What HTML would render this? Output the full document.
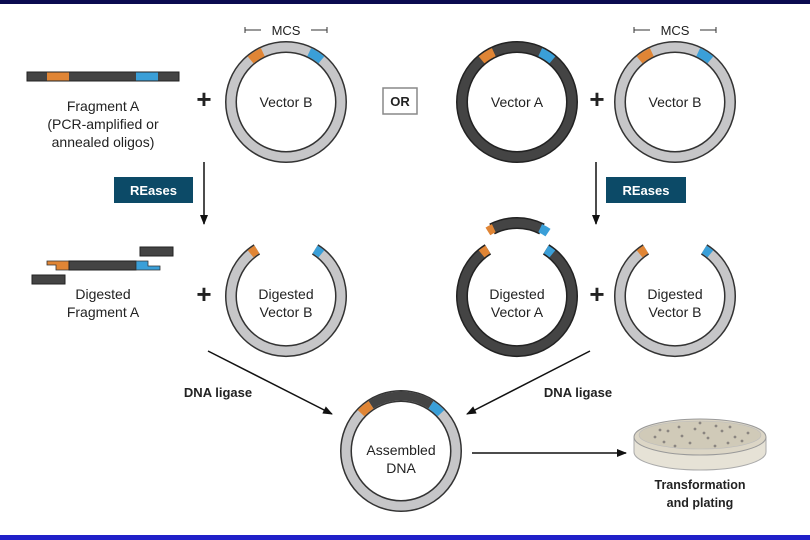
<!DOCTYPE html>
<html><head><meta charset="utf-8"><style>
html,body{margin:0;padding:0;background:#fff}
svg{display:block}
text{font-family:"Liberation Sans",sans-serif;fill:#222}
</style></head><body>
<svg width="810" height="540" viewBox="0 0 810 540" xmlns="http://www.w3.org/2000/svg">
<defs>
<marker id="ah" markerWidth="10" markerHeight="8" refX="9" refY="4" orient="auto" markerUnits="userSpaceOnUse"><path d="M0,0 L10,4 L0,8 Z" fill="#111"/></marker>
</defs>
<rect x="0" y="0" width="810" height="4" fill="#0a0a50"/>
<rect x="0" y="535" width="810" height="5" fill="#2020c8"/>

<!-- Fragment A -->
<rect x="27" y="72" width="152" height="9" fill="#444" stroke="#222" stroke-width="1"/>
<rect x="47" y="72.5" width="22" height="8" fill="#e08535"/>
<rect x="136" y="72.5" width="22" height="8" fill="#3a9fd8"/>
<text x="103" y="111" font-size="14" text-anchor="middle">Fragment A</text>
<text x="103" y="129" font-size="14" text-anchor="middle">(PCR-amplified or</text>
<text x="103" y="147" font-size="14" text-anchor="middle">annealed oligos)</text>
<text x="204" y="108" font-size="26" text-anchor="middle" font-weight="bold">+</text>

<!-- Vector B top-left -->
<g transform="translate(286,102)">
<circle r="55" fill="none" stroke="#333" stroke-width="12"/>
<circle r="55" fill="none" stroke="#c6c6c8" stroke-width="9"/>
<path d="M-35.4,-42.1 A55,55 0 0 1 -23.2,-49.8" fill="none" stroke="#e08535" stroke-width="9"/>
<path d="M23.2,-49.8 A55,55 0 0 1 35.4,-42.1" fill="none" stroke="#3a9fd8" stroke-width="9"/>
<text y="5" font-size="14" text-anchor="middle">Vector B</text>
<path d="M-41,-75 V-69 M-41,-72 H-25 M25,-72 H41 M41,-75 V-69" stroke="#333" stroke-width="1" fill="none"/>
<text y="-67" font-size="13" text-anchor="middle">MCS</text>
</g>

<!-- OR -->
<rect x="383" y="88" width="34" height="26" fill="#fff" stroke="#888" stroke-width="1.5"/>
<text x="400" y="106" font-size="13" font-weight="bold" text-anchor="middle">OR</text>

<!-- Vector A top -->
<g transform="translate(517,102)">
<circle r="55" fill="none" stroke="#222" stroke-width="12"/>
<circle r="55" fill="none" stroke="#444" stroke-width="9"/>
<path d="M-35.4,-42.1 A55,55 0 0 1 -23.2,-49.8" fill="none" stroke="#e08535" stroke-width="9"/>
<path d="M23.2,-49.8 A55,55 0 0 1 35.4,-42.1" fill="none" stroke="#3a9fd8" stroke-width="9"/>
<text y="5" font-size="14" text-anchor="middle">Vector A</text>
</g>
<text x="597" y="108" font-size="26" text-anchor="middle" font-weight="bold">+</text>
<g transform="translate(675,102)">
<circle r="55" fill="none" stroke="#333" stroke-width="12"/>
<circle r="55" fill="none" stroke="#c6c6c8" stroke-width="9"/>
<path d="M-35.4,-42.1 A55,55 0 0 1 -23.2,-49.8" fill="none" stroke="#e08535" stroke-width="9"/>
<path d="M23.2,-49.8 A55,55 0 0 1 35.4,-42.1" fill="none" stroke="#3a9fd8" stroke-width="9"/>
<text y="5" font-size="14" text-anchor="middle">Vector B</text>
<path d="M-41,-75 V-69 M-41,-72 H-25 M25,-72 H41 M41,-75 V-69" stroke="#333" stroke-width="1" fill="none"/>
<text y="-67" font-size="13" text-anchor="middle">MCS</text>
</g>

<!-- REases -->
<line x1="204" y1="162" x2="204" y2="224" stroke="#111" stroke-width="1.5" marker-end="url(#ah)"/>
<rect x="114" y="177" width="79" height="26" fill="#0c4a67"/>
<text x="153.5" y="195" font-size="13" font-weight="bold" text-anchor="middle" style="fill:#fff">REases</text>
<line x1="596" y1="162" x2="596" y2="224" stroke="#111" stroke-width="1.5" marker-end="url(#ah)"/>
<rect x="606" y="177" width="80" height="26" fill="#0c4a67"/>
<text x="646" y="195" font-size="13" font-weight="bold" text-anchor="middle" style="fill:#fff">REases</text>

<!-- Digested fragment A -->
<rect x="140" y="247" width="33" height="9" fill="#444" stroke="#222"/>
<path d="M47,261 H69 V270 H56 V265 H47 Z" fill="#e08535" stroke="#333" stroke-width=".8"/>
<rect x="69" y="261" width="67" height="9" fill="#444" stroke="#222"/>
<path d="M136,261 H148 V266 H160 V270 H136 Z" fill="#3a9fd8" stroke="#333" stroke-width=".8"/>
<rect x="32" y="275" width="33" height="9" fill="#444" stroke="#222"/>
<text x="103" y="299" font-size="14" text-anchor="middle">Digested</text>
<text x="103" y="317" font-size="14" text-anchor="middle">Fragment A</text>
<text x="204" y="303" font-size="26" text-anchor="middle" font-weight="bold">+</text>

<!-- Digested Vector B left -->
<g transform="translate(286,296)">
<path d="M29.1,-46.6 A55,55 0 1 1 -29.1,-46.6" fill="none" stroke="#333" stroke-width="12"/>
<path d="M29.1,-46.6 A55,55 0 1 1 -29.1,-46.6" fill="none" stroke="#c6c6c8" stroke-width="9"/>
<path d="M-35.4,-42.1 A55,55 0 0 1 -29.1,-46.6" fill="none" stroke="#e08535" stroke-width="9"/>
<path d="M29.1,-46.6 A55,55 0 0 1 35.4,-42.1" fill="none" stroke="#3a9fd8" stroke-width="9"/>
<text y="3" font-size="14" text-anchor="middle">Digested</text>
<text y="21" font-size="14" text-anchor="middle">Vector B</text>
</g>

<!-- Digested Vector A -->
<g transform="translate(517,296)">
<path d="M29.1,-46.6 A55,55 0 1 1 -29.1,-46.6" fill="none" stroke="#222" stroke-width="12"/>
<path d="M29.1,-46.6 A55,55 0 1 1 -29.1,-46.6" fill="none" stroke="#444" stroke-width="9"/>
<path d="M-35.4,-42.1 A55,55 0 0 1 -29.1,-46.6" fill="none" stroke="#e08535" stroke-width="9"/>
<path d="M29.1,-46.6 A55,55 0 0 1 35.4,-42.1" fill="none" stroke="#3a9fd8" stroke-width="9"/>
<g transform="translate(0,-18)">
<path d="M-25,-49 A55,55 0 0 1 25,-49" fill="none" stroke="#222" stroke-width="12"/>
<path d="M-25,-49 A55,55 0 0 1 25,-49" fill="none" stroke="#444" stroke-width="9"/>
<path d="M-29.1,-46.6 A55,55 0 0 1 -23.2,-49.8" fill="none" stroke="#e08535" stroke-width="9"/>
<path d="M23.2,-49.8 A55,55 0 0 1 31,-45.4" fill="none" stroke="#3a9fd8" stroke-width="9"/>
</g>
<text y="3" font-size="14" text-anchor="middle">Digested</text>
<text y="21" font-size="14" text-anchor="middle">Vector A</text>
</g>
<text x="597" y="303" font-size="26" text-anchor="middle" font-weight="bold">+</text>
<g transform="translate(675,296)">
<path d="M29.1,-46.6 A55,55 0 1 1 -29.1,-46.6" fill="none" stroke="#333" stroke-width="12"/>
<path d="M29.1,-46.6 A55,55 0 1 1 -29.1,-46.6" fill="none" stroke="#c6c6c8" stroke-width="9"/>
<path d="M-35.4,-42.1 A55,55 0 0 1 -29.1,-46.6" fill="none" stroke="#e08535" stroke-width="9"/>
<path d="M29.1,-46.6 A55,55 0 0 1 35.4,-42.1" fill="none" stroke="#3a9fd8" stroke-width="9"/>
<text y="3" font-size="14" text-anchor="middle">Digested</text>
<text y="21" font-size="14" text-anchor="middle">Vector B</text>
</g>

<!-- ligase arrows -->
<line x1="208" y1="351" x2="332" y2="414" stroke="#111" stroke-width="1.5" marker-end="url(#ah)"/>
<text x="218" y="397" font-size="13" font-weight="bold" text-anchor="middle">DNA ligase</text>
<line x1="590" y1="351" x2="467" y2="414" stroke="#111" stroke-width="1.5" marker-end="url(#ah)"/>
<text x="578" y="397" font-size="13" font-weight="bold" text-anchor="middle">DNA ligase</text>

<!-- Assembled DNA -->
<g transform="translate(401,451)">
<circle r="55" fill="none" stroke="#333" stroke-width="12"/>
<circle r="55" fill="none" stroke="#c6c6c8" stroke-width="9"/>
<path d="M-30,-46.1 A55,55 0 0 1 30,-46.1" fill="none" stroke="#444" stroke-width="9"/>
<path d="M-40,-37.8 A55,55 0 0 1 -30,-46.1" fill="none" stroke="#e08535" stroke-width="9"/>
<path d="M30,-46.1 A55,55 0 0 1 40,-37.8" fill="none" stroke="#3a9fd8" stroke-width="9"/>
<text y="4" font-size="14" text-anchor="middle">Assembled</text>
<text y="22" font-size="14" text-anchor="middle">DNA</text>
</g>
<line x1="472" y1="453" x2="626" y2="453" stroke="#111" stroke-width="1.5" marker-end="url(#ah)"/>

<!-- Petri dish -->
<g>
<path d="M634,437 V452 A66,18 0 0 0 766,452 V437" fill="#e6e2d6" stroke="#aaa"/>
<ellipse cx="700" cy="437" rx="66" ry="18" fill="#dcd6c6" stroke="#999"/>
<ellipse cx="700" cy="435" rx="61" ry="14" fill="#d0cab8" stroke="#bbb" stroke-width=".6"/>
<g fill="#8a8580">
<circle cx="655" cy="437" r="1.4"/><circle cx="668" cy="431" r="1.4"/><circle cx="682" cy="436" r="1.4"/><circle cx="695" cy="429" r="1.4"/><circle cx="708" cy="438" r="1.4"/><circle cx="722" cy="431" r="1.4"/><circle cx="735" cy="437" r="1.4"/><circle cx="748" cy="433" r="1.4"/><circle cx="664" cy="442" r="1.4"/><circle cx="690" cy="443" r="1.4"/><circle cx="704" cy="433" r="1.4"/><circle cx="716" cy="426" r="1.4"/><circle cx="728" cy="443" r="1.4"/><circle cx="742" cy="441" r="1.4"/><circle cx="679" cy="427" r="1.4"/><circle cx="700" cy="423" r="1.4"/><circle cx="675" cy="446" r="1.4"/><circle cx="715" cy="446" r="1.4"/><circle cx="730" cy="427" r="1.4"/><circle cx="660" cy="430" r="1.4"/>
</g>
</g>
<text x="700" y="489" font-size="12.5" font-weight="bold" text-anchor="middle">Transformation</text>
<text x="700" y="507" font-size="12.5" font-weight="bold" text-anchor="middle">and plating</text>
</svg>
</body></html>
